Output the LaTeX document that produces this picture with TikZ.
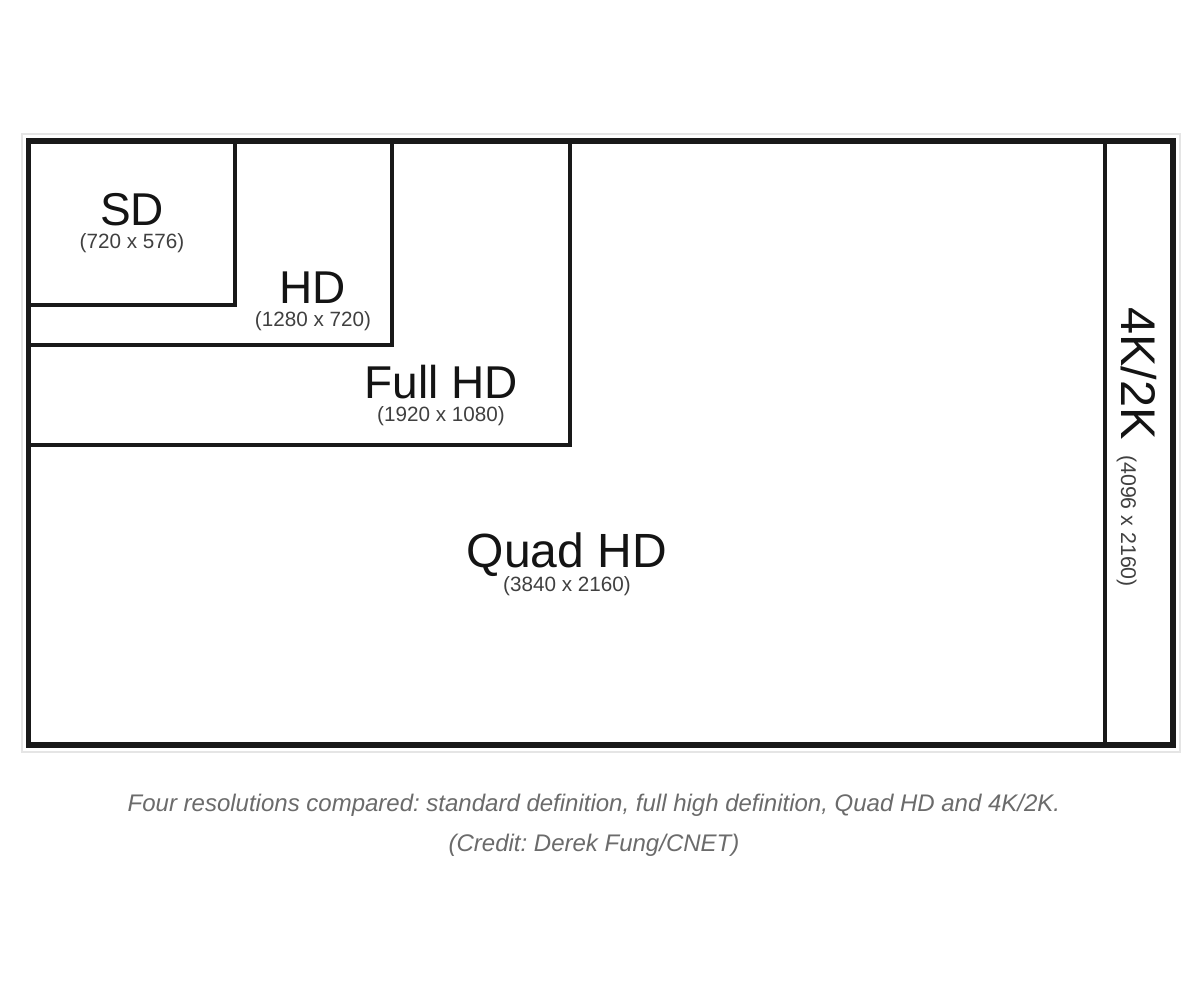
\documentclass[tikz,border=0pt]{standalone}
\usepackage{fontspec}
\setmainfont{Liberation Sans}
\frenchspacing
\begin{document}
\begin{tikzpicture}[x=0.75pt,y=-0.75pt,
  frame/.style={line width=4.2pt, draw=black!90, line join=miter},
  divider/.style={line width=3.2pt, draw=black!90},
  biglabel/.style={font=\fontsize{34.5}{40}\selectfont, text=black!92, inner sep=0pt, anchor=base},
  sublabel/.style={font=\fontsize{15.5}{18}\selectfont, text=black!75, inner sep=0pt, anchor=base},
  captionstyle/.style={font=\fontsize{18}{21}\selectfont\itshape, text=black!58, inner sep=0pt, anchor=base}]
\useasboundingbox[fill=white] (0,0) rectangle (1200,981);
% faint outer shadow
\draw[line width=1.2pt, draw=black!10] (22,134) rectangle (1180,752);
% outer frame
\coordinate (tl) at (28.5,141);
\coordinate (br) at (1173,745);
\draw[frame] (tl) rectangle (br);
% boxes
\draw[divider] (28.5,305) -- (235,305) -- (235,141);
\draw[divider] (28.5,345) -- (392,345) -- (392,141);
\draw[divider] (28.5,445) -- (570,445) -- (570,141);
\draw[divider] (1105,141) -- (1105,745);
% labels
\node[biglabel] (sd) at (132,225) {SD};
\node[sublabel] (sdr) at (132,248) {(720 x 576)};
\node[biglabel] (hd) at (313,303) {HD};
\node[sublabel] (hdr) at (313,326) {(1280 x 720)};
\node[biglabel] (fhd) at (441,398) {Full HD};
\node[sublabel] (fhdr) at (441,421) {(1920 x 1080)};
\node[biglabel, font=\fontsize{36}{42}\selectfont] (qhd) at (567,567) {Quad HD};
\node[sublabel] (qhdr) at (567,591) {(3840 x 2160)};
\node[biglabel, font=\fontsize{36.5}{42}\selectfont, rotate=-90, anchor=base west] (fk) at (1121,307) {4K/2K};
\node[sublabel, font=\fontsize{16}{19}\selectfont, rotate=-90, anchor=base west] (fkr) at (1121,455) {(4096 x 2160)};
% caption
\node[captionstyle] (cap1) at (594,811) {Four resolutions compared: standard definition, full high definition, Quad HD and 4K/2K.};
\node[captionstyle] (cap2) at (594,851) {(Credit: Derek Fung/CNET)};
\end{tikzpicture}
\end{document}
